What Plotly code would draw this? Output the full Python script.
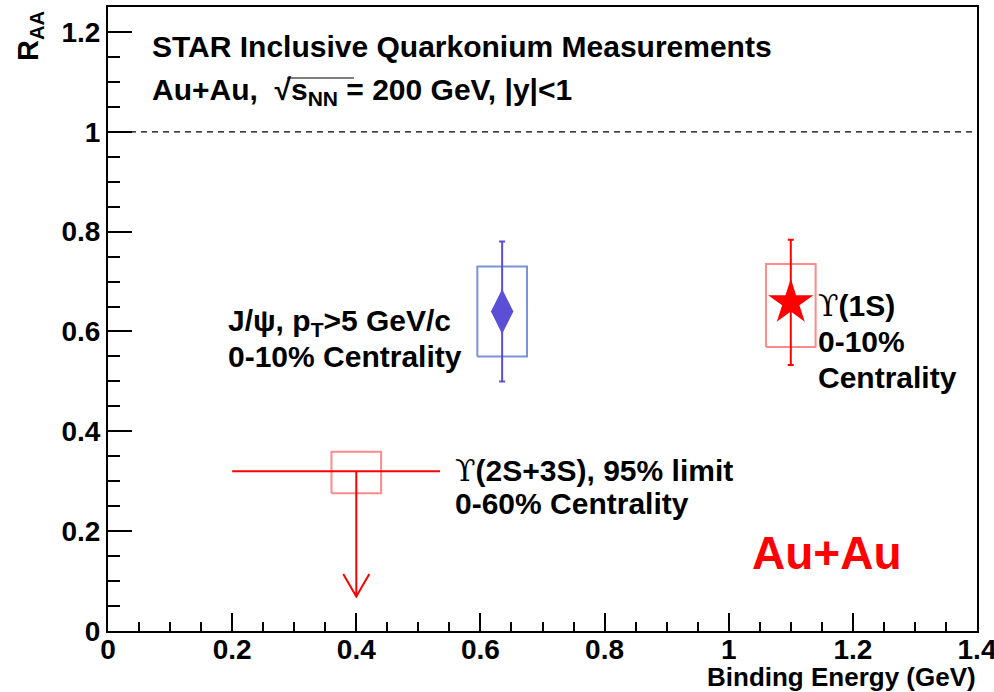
import plotly.graph_objects as go

# ---------------- data ----------------
jpsi_x = [0.635]
jpsi_y = [0.64]
jpsi_err = [0.14]
jpsi_sys_lo = [0.55]
jpsi_sys_hi = [0.73]

ups1s_x = [1.10]
ups1s_y = [0.658]
ups1s_err_hi = [0.126]
ups1s_err_lo = [0.125]
ups1s_sys_lo = [0.569]
ups1s_sys_hi = [0.735]

ups23_x = [0.40]
ups23_y = [0.32]           # 95% upper limit
ups23_x_lo = [0.20]        # binding energy range (3S)
ups23_x_hi = [0.535]       # binding energy range (2S)
ups23_sys_lo = [0.276]
ups23_sys_hi = [0.359]
ups23_arrow_tip = [0.069]

box_halfwidth = 0.04
x_ticks = [0, 0.2, 0.4, 0.6, 0.8, 1, 1.2, 1.4]
x_ticklabels = ["0", "0.2", "0.4", "0.6", "0.8", "1", "1.2", "1.4"]
y_ticks = [0, 0.2, 0.4, 0.6, 0.8, 1, 1.2]
y_ticklabels = ["0", "0.2", "0.4", "0.6", "0.8", "1", "1.2"]

BLUE = "#5b4fd6"
BLUE_BOX = "#7a93d8"
RED = "#ff0000"
RED_BOX = "#ff8a8a"
FONT = "Liberation Sans"

fig = go.Figure()


def box_trace(x, lo, hi, color):
    xs, ys = [], []
    for xi, l, h in zip(x, lo, hi):
        xs += [xi - box_halfwidth, xi + box_halfwidth, xi + box_halfwidth, xi - box_halfwidth, xi - box_halfwidth, None]
        ys += [l, l, h, h, l, None]
    return go.Scatter(x=xs, y=ys, mode="lines", line=dict(color=color, width=2),
                      hoverinfo="skip", showlegend=False)


# systematic boxes
fig.add_trace(box_trace(jpsi_x, jpsi_sys_lo, jpsi_sys_hi, BLUE_BOX))
fig.add_trace(box_trace(ups1s_x, ups1s_sys_lo, ups1s_sys_hi, RED_BOX))
fig.add_trace(box_trace(ups23_x, ups23_sys_lo, ups23_sys_hi, RED_BOX))

# J/psi
fig.add_trace(go.Scatter(
    x=jpsi_x, y=jpsi_y, mode="markers",
    marker=dict(symbol="diamond-tall", size=32, color=BLUE, line=dict(width=0)),
    error_y=dict(type="data", array=jpsi_err, color=BLUE, thickness=2, width=3),
    showlegend=False))

# Upsilon(1S)
fig.add_trace(go.Scatter(
    x=ups1s_x, y=ups1s_y, mode="markers",
    marker=dict(symbol="star", size=34, color=RED, line=dict(width=0)),
    error_y=dict(type="data", symmetric=False, array=ups1s_err_hi, arrayminus=ups1s_err_lo,
                 color=RED, thickness=2, width=3),
    showlegend=False))

# Upsilon(2S+3S) upper limit: horizontal range
fig.add_trace(go.Scatter(
    x=ups23_x, y=ups23_y, mode="markers",
    marker=dict(size=1, color=RED, opacity=0),
    error_x=dict(type="data", symmetric=False,
                 array=[h - x for h, x in zip(ups23_x_hi, ups23_x)],
                 arrayminus=[x - l for l, x in zip(ups23_x_lo, ups23_x)],
                 color=RED, thickness=2, width=0),
    showlegend=False))

# arrow shaft
ax, ay = [], []
for x, y, t in zip(ups23_x, ups23_y, ups23_arrow_tip):
    ax += [x, x, None]
    ay += [y, t, None]
fig.add_trace(go.Scatter(x=ax, y=ay, mode="lines", line=dict(color=RED, width=2),
                         hoverinfo="skip", showlegend=False))
# arrow head
hx, hy = [], []
for x, t in zip(ups23_x, ups23_arrow_tip):
    hx += [x - 0.021, x, x + 0.021, None]
    hy += [t + 0.045, t, t + 0.045, None]
fig.add_trace(go.Scatter(x=hx, y=hy, mode="lines", line=dict(color=RED, width=2),
                         hoverinfo="skip", showlegend=False))

# dashed line at R_AA = 1
fig.add_shape(type="line", xref="paper", x0=0, x1=1, yref="y", y0=1, y1=1,
              line=dict(color="black", width=1.2, dash="6px,5px"))

# ---------------- layout ----------------
L, R, T, B = 108, 977, 7, 631
W, H = 994, 692


def px(X):
    return (X - L) / (R - L)


def py(Y):
    return (B - Y) / (B - T)


# overline of the square-root sign
fig.add_shape(type="line", xref="paper", yref="paper",
              x0=px(287), x1=px(354), y0=py(78), y1=py(78),
              line=dict(color="black", width=1.2))

ups = "<span style=\"font-family:'DejaVu Serif';font-weight:normal\">ϒ</span>"

TS = 30
annots = [
    dict(text="STAR Inclusive Quarkonium Measurements", X=150, Y=46, size=TS, anchor="left"),
    dict(text="Au+Au,  √s<sub>NN</sub> = 200 GeV, |y|<1", X=150, Y=92, size=TS, anchor="left"),
    dict(text="J/ψ, p<sub>T</sub>>5 GeV/c", X=226, Y=322, size=TS, anchor="left"),
    dict(text="0-10% Centrality", X=226, Y=356, size=TS, anchor="left"),
    dict(text=ups + "(1S)", X=816, Y=305, size=TS, anchor="left"),
    dict(text="0-10%", X=816, Y=341, size=TS, anchor="left"),
    dict(text="Centrality", X=816, Y=377, size=TS, anchor="left"),
    dict(text=ups + "(2S+3S), 95% limit", X=453, Y=470, size=TS, anchor="left"),
    dict(text="0-60% Centrality", X=453, Y=503, size=TS, anchor="left"),
    dict(text="Binding Energy (GeV)", X=978, Y=677, size=26, anchor="right"),
]
annotations = []
for a in annots:
    annotations.append(dict(
        text=a["text"], xref="paper", yref="paper", x=px(a["X"]), y=py(a["Y"]),
        xanchor=a["anchor"], yanchor="middle", showarrow=False,
        font=dict(family=FONT, size=a["size"], color="black", weight="bold")))
annotations.append(dict(
    text="Au+Au", xref="paper", yref="paper", x=px(750), y=py(553),
    xanchor="left", yanchor="middle", showarrow=False,
    font=dict(family=FONT, size=46, color=RED, weight="bold")))
annotations.append(dict(
    text="R<sub>AA</sub>", xref="paper", yref="paper", x=px(30), y=py(36),
    xanchor="center", yanchor="middle", showarrow=False, textangle=-90,
    font=dict(family=FONT, size=29, color="black", weight="bold")))

axis_common = dict(
    showgrid=False, zeroline=False, showline=True, linecolor="black", linewidth=2,
    mirror=True, ticks="inside", tickcolor="black", tickwidth=1.5,
    tickfont=dict(family=FONT, size=28, color="black", weight="bold"),
    ticklabeloverflow="allow",
)

fig.update_layout(
    width=W, height=H,
    margin=dict(l=L, r=W - R, t=T, b=H - B, autoexpand=False),
    paper_bgcolor="white", plot_bgcolor="white",
    xaxis=dict(range=[0, 1.4], tickvals=x_ticks, ticktext=x_ticklabels, ticklen=18,
               ticklabelstandoff=-8,
               minor=dict(ticks="inside", dtick=0.05, tick0=0, ticklen=9,
                          tickcolor="black", tickwidth=1.5, showgrid=False),
               **axis_common),
    yaxis=dict(range=[0, 1.25], tickvals=y_ticks, ticktext=y_ticklabels, ticklen=24,
               minor=dict(ticks="inside", dtick=0.05, tick0=0, ticklen=12,
                          tickcolor="black", tickwidth=1.5, showgrid=False),
               **axis_common),
    annotations=annotations,
    showlegend=False,
)

fig.write_html("out.html", config={"displayModeBar": False},
               post_script="document.body.style.margin='0px';document.body.style.overflow='hidden';")
